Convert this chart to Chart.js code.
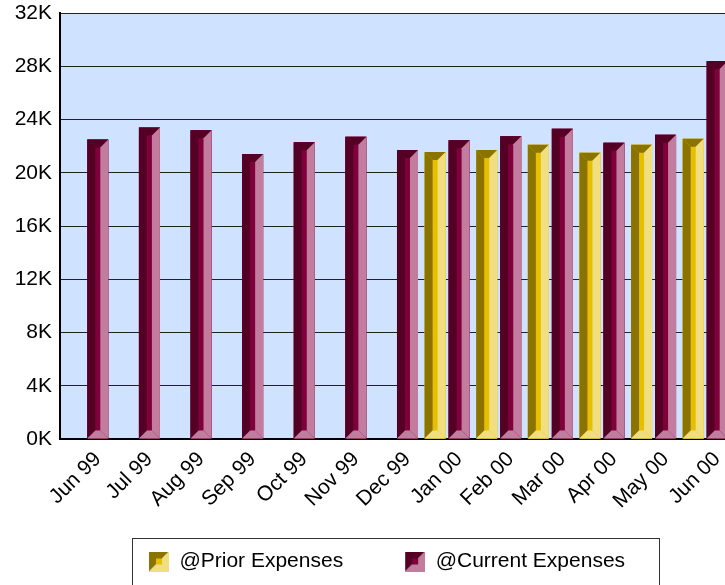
<!DOCTYPE html>
<html>
<head>
<meta charset="utf-8">
<script src="https://cdn.jsdelivr.net/npm/chart.js@4.4.1/dist/chart.umd.min.js"></script>
<style>
  html, body { margin: 0; padding: 0; background: #fff; overflow: hidden; }
  #wrap { position: relative; width: 731px; height: 585px; }
</style>
</head>
<body>
<div id="wrap"><canvas id="chart"></canvas></div>
<script>
const months = ['Jun 99', 'Jul 99', 'Aug 99', 'Sep 99', 'Oct 99', 'Nov 99', 'Dec 99',
                'Jan 00', 'Feb 00', 'Mar 00', 'Apr 00', 'May 00', 'Jun 00'];
const priorExpenses = [null, null, null, null, null, null, null,
                       21550, 21700, 22100, 21500, 22100, 22550];
const currentExpenses = [22500, 23400, 23200, 21400, 22300, 22700, 21700,
                         22450, 22750, 23300, 22250, 22850, 28400];
const yTicks = [0, 4000, 8000, 12000, 16000, 20000, 24000, 28000, 32000];

// dark (top/left), middle, light (right/bottom)
const shades = {
  prior: ['#8A7300', '#E6C000', '#F0DE80'],
  current: ['#540025', '#7F003A', '#C27C9D']
};

const FONT = "'Liberation Sans', Arial, sans-serif";
const ICON_GAP = 43;   // empty room left of each legend swatch

function legendIcon(c) {
  const cv = document.createElement('canvas');
  cv.width = ICON_GAP + 20; cv.height = 20;
  const g = cv.getContext('2d');
  g.translate(ICON_GAP, 0);
  g.fillStyle = c[0];
  g.beginPath(); g.moveTo(0, 0); g.lineTo(20, 0); g.lineTo(0, 20); g.closePath(); g.fill();
  g.fillStyle = c[2];
  g.beginPath(); g.moveTo(20, 0); g.lineTo(20, 20); g.lineTo(0, 20); g.closePath(); g.fill();
  g.fillStyle = c[1];
  g.fillRect(7, 7, 6, 6);
  return cv;
}

const plotBg = {
  id: 'plotBg',
  beforeDraw(chart) {
    const a = chart.chartArea, ctx = chart.ctx;
    ctx.save();
    ctx.fillStyle = '#CFE2FF';
    ctx.fillRect(a.left, a.top, a.right - a.left, a.bottom - a.top);
    ctx.restore();
  }
};

function poly(ctx, pts, color) {
  ctx.fillStyle = color;
  ctx.beginPath();
  ctx.moveTo(pts[0][0], pts[0][1]);
  for (let i = 1; i < pts.length; i++) ctx.lineTo(pts[i][0], pts[i][1]);
  ctx.closePath();
  ctx.fill();
}

// bevelled bar faces
const bevel = {
  id: 'bevel',
  afterDatasetsDraw(chart) {
    const ctx = chart.ctx, a = chart.chartArea;
    ctx.save();
    ctx.beginPath();
    ctx.rect(a.left, a.top, a.right - a.left, a.bottom - a.top);
    ctx.clip();
    chart.data.datasets.forEach((ds, di) => {
      const meta = chart.getDatasetMeta(di);
      const c = ds.shades;
      meta.data.forEach((bar, i) => {
        if (ds.data[i] == null) return;
        const p = bar.getProps(['x', 'y', 'base', 'width'], true);
        const l = p.x - p.width / 2, r = p.x + p.width / 2;
        const t = Math.min(p.y, p.base), b = Math.max(p.y, p.base);
        const d = Math.min(p.width * 8 / 21, (b - t) / 2);
        poly(ctx, [[l, t], [r, t], [r, b], [l, b]], c[1]);
        poly(ctx, [[l, t], [r, t], [r - d, t + d], [l + d, t + d]], c[0]);
        poly(ctx, [[l, t], [l + d, t + d], [l + d, b - d], [l, b]], c[0]);
        poly(ctx, [[r, t], [r, b], [r - d, b - d], [r - d, t + d]], c[2]);
        poly(ctx, [[l, b], [r, b], [r - d, b - d], [l + d, b - d]], c[2]);
      });
    });
    ctx.restore();
  }
};

// frame around the legend
const legendFrame = {
  id: 'legendFrame',
  afterDraw(chart) {
    const hb = chart.legend.legendHitBoxes;
    if (!hb || !hb.length) return;
    const last = hb[hb.length - 1];
    const left = Math.round(hb[0].left + ICON_GAP - 17) + 0.5;
    const right = Math.round(last.left + last.width + 34) + 0.5;
    const top = Math.round(hb[0].top - 13) + 0.5;
    const ctx = chart.ctx;
    ctx.save();
    ctx.strokeStyle = '#333';
    ctx.lineWidth = 1;
    ctx.strokeRect(left, top, right - left, chart.height + 10 - top);
    ctx.restore();
  }
};

new Chart(document.getElementById('chart'), {
  type: 'bar',
  data: {
    labels: months,
    datasets: [
      {
        label: '@Prior Expenses',
        data: priorExpenses,
        backgroundColor: shades.prior[1],
        shades: shades.prior,
        pointStyle: legendIcon(shades.prior)
      },
      {
        label: '@Current Expenses',
        data: currentExpenses,
        backgroundColor: shades.current[1],
        shades: shades.current,
        pointStyle: legendIcon(shades.current)
      }
    ]
  },
  options: {
    responsive: true,
    maintainAspectRatio: false,
    animation: false,
    categoryPercentage: 0.93,
    barPercentage: 0.875,
    layout: { padding: { top: 13, left: 0, right: 0, bottom: 3 } },
    plugins: {
      tooltip: { enabled: false },
      legend: {
        position: 'bottom',
        align: 'center',
        labels: {
          usePointStyle: true,
          pointStyleWidth: ICON_GAP + 20,
          padding: 19,
          color: '#000',
          font: { family: FONT, size: 21 },
          generateLabels(chart) {
            return chart.data.datasets.map((ds, i) => ({
              text: ds.label,
              pointStyle: ds.pointStyle,
              fillStyle: ds.shades[1],
              strokeStyle: ds.shades[1],
              lineWidth: 0,
              hidden: false,
              datasetIndex: i,
              fontColor: '#000'
            }));
          }
        }
      }
    },
    scales: {
      x: {
        grid: { display: false, drawTicks: false },
        border: { display: true, color: '#000', width: 2 },
        ticks: {
          color: '#000',
          font: { family: FONT, size: 21 },
          minRotation: 45,
          maxRotation: 45,
          autoSkip: false,
          labelOffset: 12,
          padding: 8
        },
        afterFit(scale) { scale.height = 93; }
      },
      y: {
        min: 0,
        max: 32000,
        grid: { color: '#222', lineWidth: 1, drawTicks: true, tickLength: 8, tickColor: 'rgba(0,0,0,0)' },
        border: { display: true, color: '#000', width: 2 },
        afterBuildTicks(scale) { scale.ticks = yTicks.map(v => ({ value: v })); },
        ticks: {
          color: '#000',
          padding: 0,
          font: { family: FONT, size: 21 },
          callback: v => (v / 1000) + 'K'
        },
        afterFit(scale) { scale.width = 60; }
      }
    }
  },
  plugins: [plotBg, bevel, legendFrame]
});
</script>
</body>
</html>
